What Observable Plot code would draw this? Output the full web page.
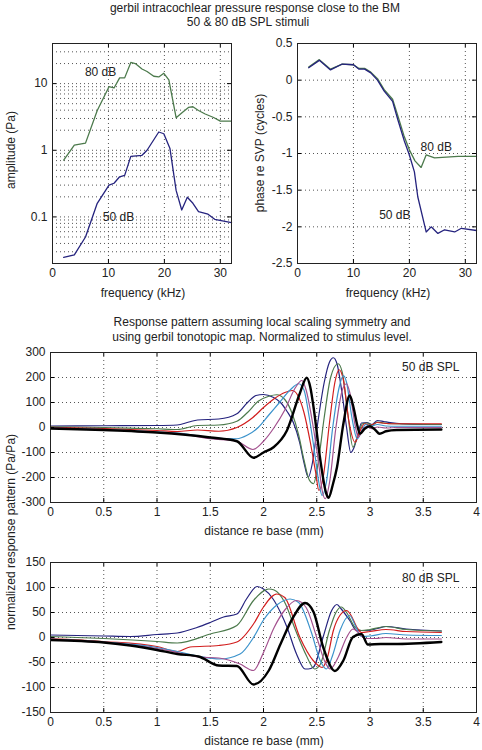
<!DOCTYPE html>
<html><head><meta charset="utf-8">
<script src="https://cdn.jsdelivr.net/npm/d3@7"></script>
<script src="https://cdn.jsdelivr.net/npm/@observablehq/plot@0.6"></script>
<style>
body{margin:0;background:#fff;font-family:"Liberation Sans",Arial,sans-serif;}
#wrap{position:relative;width:482px;height:750px;overflow:hidden;background:#fff;}
.t{position:absolute;font-size:12px;color:#222;white-space:nowrap;transform:translate(-50%,-50%);line-height:1;}
.r{transform:translate(-50%,-50%) rotate(-90deg);}
</style></head><body><div id="wrap"></div>
<script>
// ---------- Top-left: amplitude ----------
const ampFreq80 = [2,3.9,5.9,8,10.1,11,12,12.9,14,14.8,16,16.9,18.1,19,19.9,20.8,22.1,23.2,24.3,25.1,26.1,27.3,28.8,30,32];
const amp80 = [0.71,1.19,1.28,3.95,9.0,8.6,12.2,12.2,20.8,20,16.6,15.2,12.9,12.6,14.3,11.4,3.08,3.7,4.4,4.5,3.95,3.5,3.1,2.74,2.74];
const ampFreq50 = [2,3.9,5.9,8,10.1,11,12,12.9,14,16,16.9,19,19.9,21,22.1,23.1,24.1,25.1,26.1,27.8,29,32];
const amp50 = [0.0247,0.027,0.05,0.16,0.30,0.32,0.40,0.42,0.81,0.84,1.0,1.88,1.77,1.06,0.25,0.127,0.197,0.16,0.12,0.11,0.092,0.082];

// ---------- Top-right: phase ----------
const phaseFreq80 = [2,3.9,5.9,8,10,11,12,13.1,14.3,15.5,17,18,19,20,21,22.1,23,24.5,28.7,32];
const phase80 = [0.18,0.28,0.15,0.22,0.21,0.16,0.16,0.11,0.02,-0.13,-0.26,-0.5,-0.75,-0.95,-1.1,-1.19,-1.02,-1.06,-1.04,-1.04];
const phaseFreq50 = [2,3.9,5.9,8,10,11,12,13.1,14.3,15.5,17,17.9,19.1,20,20.9,21.5,23,23.9,25.1,26.3,28.1,29.3,32];
const phase50 = [0.17,0.27,0.14,0.22,0.21,0.15,0.15,0.1,0.0,-0.15,-0.29,-0.53,-0.83,-1.02,-1.25,-1.59,-2.07,-2.0,-2.09,-2.04,-2.07,-2.02,-2.05];

// ---------- Middle: 50 dB SPL response pattern [distance mm, Pa/Pa] ----------
const r50Blue = [[0,6],[0.5,7],[1.0,8],[1.19,10],[1.3,22],[1.38,30],[1.58,34],[1.75,55],[1.85,100],[1.93,128],[2.0,132],[2.09,121],[2.16,100],[2.22,65],[2.28,20],[2.34,-60],[2.38,-140],[2.42,-199],[2.46,-140],[2.51,20],[2.57,180],[2.62,262],[2.656,279],[2.69,255],[2.74,130],[2.78,0],[2.82,-100],[2.85,-80],[2.89,-20],[2.92,18],[2.97,20],[3.02,12],[3.07,28],[3.13,24],[3.19,20],[3.3,15],[3.5,12],[3.67,12]];
const r50Green = [[0,3],[0.5,0],[1.0,-5],[1.19,-8],[1.38,8],[1.58,10],[1.75,25],[1.85,60],[1.95,105],[2.05,125],[2.125,131],[2.2,112],[2.27,55],[2.33,-30],[2.38,-130],[2.43,-210],[2.47,-225],[2.51,-150],[2.57,40],[2.63,200],[2.70,255],[2.74,220],[2.79,60],[2.84,-79],[2.88,-40],[2.93,15],[2.97,18],[3.02,10],[3.07,22],[3.13,18],[3.2,15],[3.67,12]];
const r50Red = [[0,1],[0.5,-4],[1.0,-12],[1.19,-16],[1.38,-10],[1.58,-15],[1.75,0],[1.9,40],[2.0,80],[2.1,115],[2.2,140],[2.27,148],[2.32,130],[2.38,60],[2.44,-60],[2.49,-180],[2.52,-252],[2.56,-200],[2.62,20],[2.67,180],[2.71,231],[2.75,190],[2.8,30],[2.86,-59],[2.9,-20],[2.95,15],[3.0,8],[3.07,20],[3.15,16],[3.25,15],[3.67,15]];
const r50LightBlue = [[0,-2],[0.5,-8],[1.0,-18],[1.2,-22],[1.5,-40],[1.75,-45],[1.85,-30],[1.95,0],[2.05,50],[2.15,100],[2.25,150],[2.33,175],[2.38,150],[2.43,40],[2.48,-100],[2.52,-220],[2.55,-272],[2.59,-220],[2.65,0],[2.71,160],[2.75,208],[2.78,180],[2.83,40],[2.88,-45],[2.92,-15],[2.96,12],[3.0,5],[3.07,12],[3.15,6],[3.25,5],[3.67,5]];
const r50Magenta = [[0,-3],[0.5,-9],[1.0,-20],[1.2,-24],[1.5,-45],[1.75,-55],[1.9,-88],[2.0,-55],[2.1,0],[2.2,70],[2.3,160],[2.36,188],[2.4,150],[2.46,20],[2.52,-150],[2.55,-250],[2.58,-285],[2.62,-220],[2.68,0],[2.74,150],[2.78,175],[2.81,140],[2.86,10],[2.89,-39],[2.93,-10],[2.97,5],[3.02,-5],[3.07,2],[3.15,-2],[3.25,0],[3.67,0]];
const r50Black = [[0,-4],[0.5,-10],[1.0,-20],[1.5,-40],[1.75,-55],[1.906,-121],[2.0,-100],[2.094,-79],[2.22,-12],[2.34,135],[2.406,199],[2.44,160],[2.47,81],[2.53,-119],[2.59,-265],[2.61,-281],[2.65,-230],[2.69,-159],[2.75,15],[2.81,128],[2.84,90],[2.88,10],[2.906,-25],[2.95,-5],[3.0,5],[3.05,-10],[3.09,-25],[3.15,-15],[3.25,-10],[3.67,-8]];

// ---------- Bottom: 80 dB SPL response pattern ----------
const r80Blue = [[0,5],[0.5,3],[0.75,2],[1.0,6],[1.19,9],[1.375,20],[1.5,30],[1.625,41],[1.75,47],[1.84,77],[1.94,102],[2.0,97],[2.09,77],[2.16,50],[2.22,21],[2.31,-33],[2.39,-63],[2.42,-63],[2.47,-59],[2.56,1],[2.64,54],[2.69,66],[2.73,57],[2.81,34],[2.875,14],[2.97,14],[3.07,18],[3.15,22],[3.34,17],[3.67,13]];
const r80Green = [[0,2],[0.5,-2],[1.0,-8],[1.19,-11],[1.5,7],[1.75,24],[1.906,74],[2.05,97],[2.1,95],[2.2,70],[2.3,15],[2.4,-35],[2.48,-63],[2.53,-55],[2.62,15],[2.68,50],[2.73,61],[2.78,50],[2.86,20],[2.92,14],[3.0,16],[3.15,22],[3.34,16],[3.67,13]];
const r80Red = [[0,-2],[0.5,-8],[1.0,-18],[1.19,-28],[1.31,-19],[1.58,-16],[1.75,-9],[1.906,27],[2.0,61],[2.125,87],[2.2,80],[2.34,1],[2.47,-47],[2.55,-60],[2.6,-40],[2.656,14],[2.72,45],[2.78,54],[2.82,45],[2.875,21],[2.92,10],[3.0,12],[3.15,16],[3.34,12],[3.67,10]];
const r80LightBlue = [[0,-3],[0.5,-9],[1.0,-20],[1.19,-28],[1.4,-38],[1.59,-43],[1.78,-33],[1.906,0],[2.0,35],[2.125,65],[2.25,77],[2.33,70],[2.45,10],[2.53,-45],[2.59,-63],[2.65,-35],[2.72,15],[2.81,44],[2.86,25],[2.92,2],[3.0,3],[3.15,8],[3.34,5],[3.67,4]];
const r80Magenta = [[0,-4],[0.5,-10],[1.0,-22],[1.19,-30],[1.39,-39],[1.58,-41],[1.78,-53],[1.906,-66],[2.0,-30],[2.1,20],[2.2,55],[2.31,74],[2.4,60],[2.5,0],[2.58,-50],[2.625,-63],[2.7,-40],[2.78,0],[2.84,17],[2.9,8],[2.95,-2],[3.05,-2],[3.15,0],[3.34,-3],[3.67,-3]];
const r80Black = [[0,-5],[0.5,-10],[0.75,-16],[1.0,-25],[1.19,-33],[1.39,-38],[1.58,-56],[1.75,-57],[1.906,-94],[2.05,-66],[2.16,-13],[2.28,41],[2.39,69],[2.47,51],[2.56,-19],[2.67,-67],[2.75,-46],[2.84,1],[2.92,7],[2.98,-14],[3.1,-13],[3.22,-13],[3.67,-9]];

// ---------- Ticks / labels ----------
const freqTicks = [0,10,20,30];
const ampTicks = [0.1,1,10];
const ampGrid = [0.02,0.03,0.04,0.05,0.06,0.07,0.08,0.09,0.1,0.2,0.3,0.4,0.5,0.6,0.7,0.8,0.9,1,2,3,4,5,6,7,8,9,10,20,30];
const phaseTicks = [-2.5,-2,-1.5,-1,-0.5,0,0.5];
const distTicks = [0,0.5,1,1.5,2,2.5,3,3.5,4];
const resp50Ticks = [-300,-200,-100,0,100,200,300];
const resp80Ticks = [-150,-100,-50,0,50,100,150];

const ampLabels = [{t:"80 dB", x:8.6, y:15},{t:"50 dB", x:11.8, y:0.1}];
const phaseLabels = [{t:"80 dB", x:24.8, y:-0.92},{t:"50 dB", x:17.4, y:-1.84}];
const splLabel50 = [{t:"50 dB SPL", x:3.84, y:241}];
const splLabel80 = [{t:"80 dB SPL", x:3.84, y:119}];

const cBlue="#25237e", cGreen="#4c7a4c", cRed="#d21e1e", cLB="#3b93cc", cMag="#a3508e", cBlack="#000";
const curveColors = [cBlue,cGreen,cRed,cLB,cMag,cBlack];

const wrap = document.getElementById("wrap");
const fmt = d => String(d);

function panel(cfg){
  const {left, top, width, height, mL, mR, mT, mB, xDomain, yDomain, yType, xTicks, yTicks, xGrid, yGrid, marks} = cfg;
  const fw = width - mL - mR, fh = height - mT - mB;
  const svg = Plot.plot({
    width, height, marginLeft:mL, marginRight:mR, marginTop:mT, marginBottom:mB,
    style:{fontFamily:"'Liberation Sans', Arial, sans-serif", fontSize:"12px", color:"#222", background:"transparent", overflow:"visible"},
    x:{domain:xDomain},
    y:{domain:yDomain, type:yType || "linear"},
    marks:[
      Plot.ruleX(xGrid, {stroke:"#555", strokeWidth:1, strokeDasharray:"1,3"}),
      Plot.ruleY(yGrid, {stroke:"#555", strokeWidth:1, strokeDasharray:"1,3"}),
      ...marks,
      Plot.ruleX(xTicks, {stroke:"#000", insetTop: fh-4}),
      Plot.ruleX(xTicks, {stroke:"#000", insetBottom: fh-4}),
      Plot.ruleY(yTicks, {stroke:"#000", insetRight: fw-4}),
      Plot.ruleY(yTicks, {stroke:"#000", insetLeft: fw-4}),
      Plot.axisX({ticks:xTicks, tickSize:0, tickPadding:5, tickFormat:fmt, label:null, fontSize:12}),
      Plot.axisY({ticks:yTicks, tickSize:0, tickPadding:5, tickFormat:fmt, label:null, fontSize:12}),
      Plot.frame({stroke:"#222", strokeWidth:1})
    ]
  });
  svg.style.position="absolute";
  svg.style.left=left+"px";
  svg.style.top=top+"px";
  svg.style.maxWidth="none";
  wrap.appendChild(svg);
}

function label(text, x, y, rot){
  const d=document.createElement("div");
  d.className = rot ? "t r" : "t";
  d.textContent=text;
  d.style.left=x+"px"; d.style.top=y+"px";
  wrap.appendChild(d);
}

const zip = (xs, ys) => xs.map((x,i)=>({x, y:ys[i]}));

// Top-left
panel({left:0, top:30, width:250, height:280, mL:52, mR:19, mT:13, mB:47,
  xDomain:[0,32], yDomain:[0.02,40], yType:"log",
  xTicks:freqTicks, yTicks:ampTicks, xGrid:[10,20,30], yGrid:ampGrid,
  marks:[
    Plot.line(zip(ampFreq80, amp80), {x:"x", y:"y", stroke:cGreen, strokeWidth:1.3}),
    Plot.line(zip(ampFreq50, amp50), {x:"x", y:"y", stroke:cBlue, strokeWidth:1.3}),
    Plot.text(ampLabels, {x:"x", y:"y", text:"t", fontSize:12, fill:"#222"})
  ]});

// Top-right
panel({left:245, top:30, width:237, height:280, mL:52, mR:6, mT:13, mB:47,
  xDomain:[0,32], yDomain:[-2.5,0.5],
  xTicks:freqTicks, yTicks:phaseTicks, xGrid:[10,20,30], yGrid:phaseTicks,
  marks:[
    Plot.line(zip(phaseFreq80, phase80), {x:"x", y:"y", stroke:cGreen, strokeWidth:1.3}),
    Plot.line(zip(phaseFreq50, phase50), {x:"x", y:"y", stroke:cBlue, strokeWidth:1.3}),
    Plot.text(phaseLabels, {x:"x", y:"y", text:"t", fontSize:12, fill:"#222"})
  ]});

function curveMarks(series){
  return series.map((s,i)=>Plot.line(s, {x:d=>d[0], y:d=>d[1], stroke:curveColors[i], strokeWidth: i===5 ? 2.4 : 1.2, curve:"monotone-x", clip:true}));
}

// Middle
panel({left:0, top:340, width:482, height:200, mL:50, mR:6, mT:12, mB:38,
  xDomain:[0,4], yDomain:[-300,300],
  xTicks:distTicks, yTicks:resp50Ticks, xGrid:distTicks, yGrid:resp50Ticks,
  marks:[
    ...curveMarks([r50Blue,r50Green,r50Red,r50LightBlue,r50Magenta,r50Black]),
    Plot.text(splLabel50, {x:"x", y:"y", text:"t", fontSize:12, textAnchor:"end", fill:"#222"})
  ]});

// Bottom
panel({left:0, top:550, width:482, height:200, mL:50, mR:6, mT:12, mB:38,
  xDomain:[0,4], yDomain:[-150,150],
  xTicks:distTicks, yTicks:resp80Ticks, xGrid:distTicks, yGrid:resp80Ticks,
  marks:[
    ...curveMarks([r80Blue,r80Green,r80Red,r80LightBlue,r80Magenta,r80Black]),
    Plot.text(splLabel80, {x:"x", y:"y", text:"t", fontSize:12, textAnchor:"end", fill:"#222"})
  ]});

// Text
label("gerbil intracochlear pressure response close to the BM", 255, 8);
label("50 & 80 dB SPL stimuli", 248, 22);
label("amplitude (Pa)", 11, 150, true);
label("phase re SVP (cycles)", 260, 153, true);
label("frequency (kHz)", 143, 293);
label("frequency (kHz)", 388, 293);
label("Response pattern assuming local scaling symmetry and", 262, 322);
label("using gerbil tonotopic map. Normalized to stimulus level.", 262, 337);
label("distance re base (mm)", 264, 531);
label("distance re base (mm)", 264, 741);
label("normalized response pattern (Pa/Pa)", 11, 532, true);
</script></body></html>
